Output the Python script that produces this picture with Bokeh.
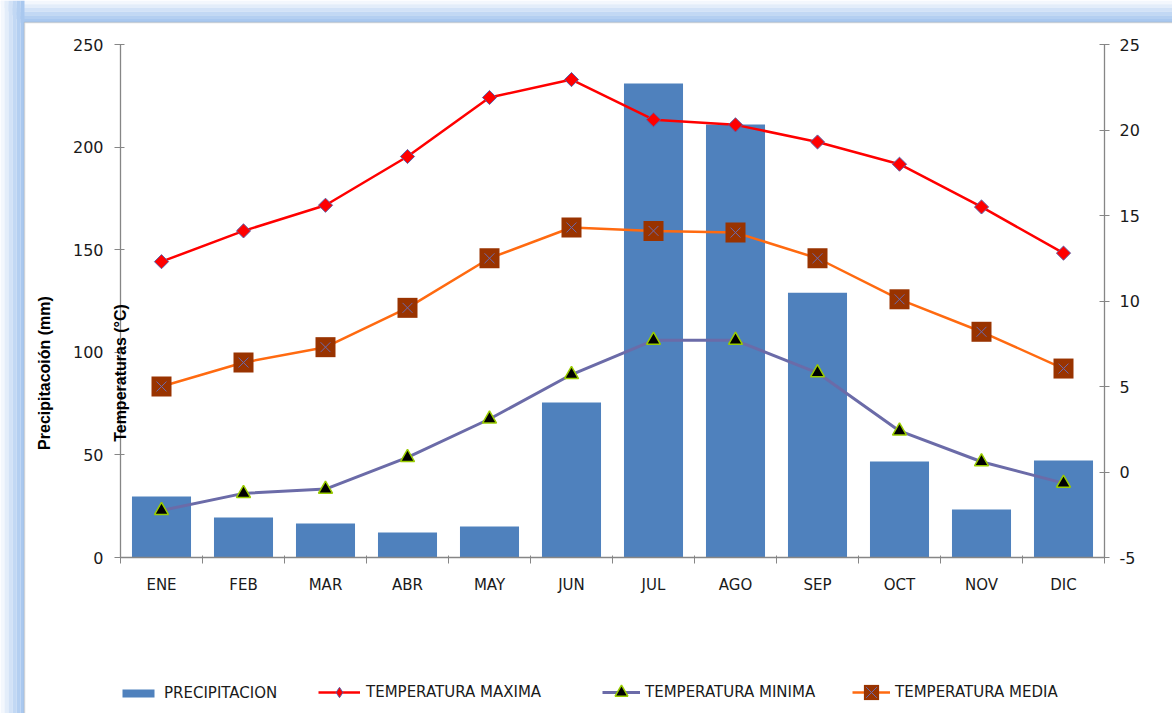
import math
from bokeh.plotting import figure
from bokeh.models import (Range1d, LinearAxis, FixedTicker, Legend, LegendItem,
                          Label, BoxAnnotation)
from bokeh.embed import file_html
from bokeh.resources import INLINE

months = ["ENE", "FEB", "MAR", "ABR", "MAY", "JUN", "JUL", "AGO", "SEP", "OCT", "NOV", "DIC"]
precip = [29.7, 19.5, 16.6, 12.2, 15.1, 75.5, 231, 211, 129, 46.8, 23.4, 47.3]
t_max = [12.3, 14.1, 15.6, 18.45, 21.9, 22.95, 20.6, 20.3, 19.3, 18.0, 15.5, 12.8]
t_min = [-2.25, -1.25, -1.0, 0.85, 3.1, 5.7, 7.7, 7.7, 5.8, 2.4, 0.6, -0.65]
t_med = [5.0, 6.4, 7.3, 9.6, 12.5, 14.3, 14.1, 14.0, 12.5, 10.1, 8.2, 6.05]
precip_ticks = [0, 50, 100, 150, 200, 250]
temp_ticks = [-5, 0, 5, 10, 15, 20, 25]

N = len(months)
xs = [i + 0.5 for i in range(N)]
AX = "#868686"
W, H = 1172, 713

# layout of the plotting area inside the canvas (pixels)
PL, PR, PT, PB = 120, 1104, 44, 557
kx = (PR - PL) / N
kp = (PB - PT) / 250.0
kt = (PB - PT) / 30.0

xr = Range1d(-PL / kx, N + (W - PR) / kx)
yr = Range1d(-(H - PB) / kp, 250 + PT / kp)
tr = Range1d(-5 - (H - PB) / kt, 25 + PT / kt)

p = figure(width=W, height=H, output_backend="svg", toolbar_location=None,
           x_range=xr, y_range=yr, min_border=0,
           min_border_left=0, min_border_right=0, min_border_top=0, min_border_bottom=0,
           background_fill_color="white", border_fill_color="white")
p.outline_line_color = None
p.xgrid.visible = False
p.ygrid.visible = False
p.extra_y_ranges = {"temp": tr}

# decorative frame (blue glow + gray border), screen units measured from bottom-left
blues = ["#f3f7fd", "#e3edfa", "#d2e2f7", "#c2d8f4", "#b4cff1", "#a9c8ef"]
for i, c in enumerate(blues):
    p.add_layout(BoxAnnotation(left=i * 4, right=i * 4 + 4, top=H, bottom=0,
                               left_units="screen", right_units="screen",
                               top_units="screen", bottom_units="screen",
                               fill_color=c, fill_alpha=1, line_color=None, level="underlay"))
    p.add_layout(BoxAnnotation(left=i * 4, right=W, top=H - i * 3.7, bottom=H - i * 3.7 - 3.7,
                               left_units="screen", right_units="screen",
                               top_units="screen", bottom_units="screen",
                               fill_color=c, fill_alpha=1, line_color=None, level="underlay"))
p.add_layout(BoxAnnotation(left=24, right=W + 5, top=H - 22, bottom=-5,
                           left_units="screen", right_units="screen",
                           top_units="screen", bottom_units="screen",
                           fill_color="white", fill_alpha=1, line_color="#8a8a8a",
                           line_width=1.5, level="underlay"))

# axes
xa = p.xaxis[0]
xa.fixed_location = 0
xa.bounds = (0, N)
xa.ticker = FixedTicker(ticks=xs, minor_ticks=list(range(N + 1)))
xa.major_label_overrides = {x: m for x, m in zip(xs, months)}
xa.major_tick_in = 0
xa.major_tick_out = 0
xa.minor_tick_in = 2
xa.minor_tick_out = 6
xa.major_label_standoff = 12
xa.major_label_text_font_size = "15px"

ya = p.yaxis[0]
ya.fixed_location = 0
ya.bounds = (0, 250)
ya.ticker = FixedTicker(ticks=precip_ticks, minor_ticks=[])
ya.major_tick_in = 4
ya.major_tick_out = 6
ya.minor_tick_line_color = None
ya.major_label_standoff = 11
ya.major_label_text_font_size = "16px"

for ax in [xa, ya]:
    ax.axis_line_color = AX
    ax.axis_line_width = 1.3
    ax.major_tick_line_color = AX
    ax.minor_tick_line_color = AX if ax is xa else None
    ax.major_label_text_color = "#1a1a1a"
    ax.major_label_text_font = "DejaVu Sans"

ra = LinearAxis(y_range_name="temp", fixed_location=N, bounds=(-5, 25),
                ticker=FixedTicker(ticks=temp_ticks, minor_ticks=[]),
                axis_line_color=AX, axis_line_width=1.3, major_tick_line_color=AX,
                minor_tick_line_color=None,
                major_tick_in=5, major_tick_out=5, major_label_standoff=10,
                major_label_text_font="DejaVu Sans", major_label_text_font_size="16px",
                major_label_text_color="#1a1a1a",
                major_label_overrides={t: str(t) for t in temp_ticks})
p.add_layout(ra, "right")

# bars
bars = p.vbar(x=xs, top=precip, bottom=0, width=0.72, fill_color="#4f81bd", line_color=None)

# temperature series
l_max = p.line(xs, t_max, y_range_name="temp", line_color="#ff0000", line_width=2.5)
m_max = p.scatter(xs, t_max, y_range_name="temp", marker="square", angle=math.pi / 4, size=10,
                  fill_color="#ff0000", line_color="#5b5ea6", line_width=1)
# legend-only diamond (no visible points)
m_max_leg = p.scatter([float("nan")], [float("nan")], y_range_name="temp", marker="diamond",
                      size=14, fill_color="#ff0000", line_color="#5b5ea6", line_width=1)

l_min = p.line(xs, t_min, y_range_name="temp", line_color="#6b6ba8", line_width=3)
m_min = p.scatter(xs, t_min, y_range_name="temp", marker="triangle", size=14,
                  fill_color="black", line_color="#99cc00", line_width=1.5)

l_med = p.line(xs, t_med, y_range_name="temp", line_color="#ff6a10", line_width=2.5)
m_med = p.scatter(xs, t_med, y_range_name="temp", marker="square", size=20,
                  fill_color="#993300", line_color=None)
m_med_x = p.scatter(xs, t_med, y_range_name="temp", marker="x", size=14,
                    line_color="#6b6bb0", line_width=1)

# axis titles placed like the reference
ty = (PB - 372.5) / kp
p.add_layout(Label(x=0, y=ty, x_offset=43.5 - PL, text="Precipitacoión (mm)", angle=math.pi / 2,
                   text_align="center", text_baseline="middle", text_font="Liberation Sans",
                   text_font_style="bold", text_font_size="16px", text_color="black"))
p.add_layout(Label(x=0, y=ty, x_offset=-0.5, text="Temperaturas (°C)", angle=math.pi / 2,
                   text_align="center", text_baseline="middle", text_font="Liberation Sans",
                   text_font_style="bold", text_font_size="16px", text_color="black"))

# legends (one per item, placed individually)
LY = 692
items = [
    ("PRECIPITACION", [bars], 118, 40, 10, 6, 4.5),
    ("TEMPERATURA MAXIMA", [l_max, m_max_leg], 318, 42, 26, 6, 0),
    ("TEMPERATURA MINIMA", [l_min, m_min], 602, 38, 32, 5, 0),
    ("TEMPERATURA MEDIA", [l_med, m_med, m_med_x], 852, 38, 38, 5, 0),
]
for label, rends, x0, gw, gh, so, dy in items:
    lg = Legend(items=[LegendItem(label=label, renderers=rends)],
                location=(x0, H - (LY + gh / 2) - dy), orientation="horizontal",
                glyph_width=gw, glyph_height=gh, label_standoff=so,
                padding=0, margin=0, border_line_color=None, background_fill_alpha=0,
                label_text_font="DejaVu Sans", label_text_font_size="15px",
                label_text_color="#1a1a1a", label_height=gh)
    p.add_layout(lg, "center")

open("out.html", "w").write(file_html(p, INLINE))
